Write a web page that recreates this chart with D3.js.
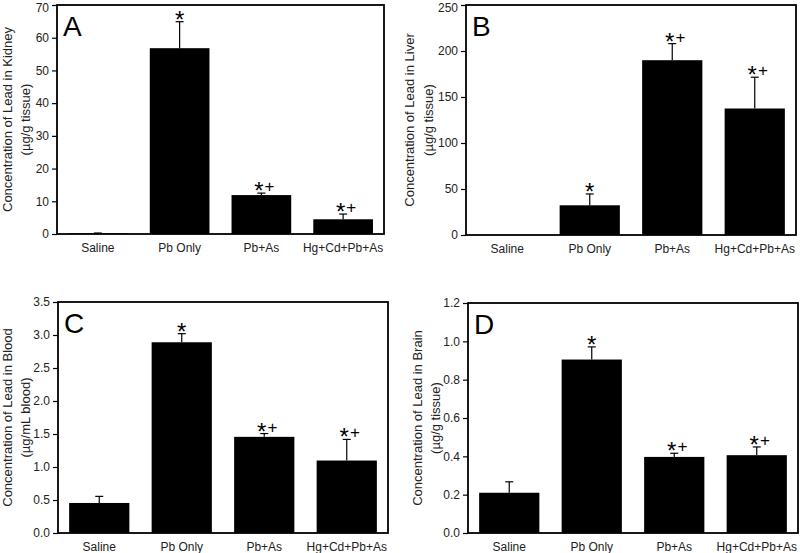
<!DOCTYPE html>
<html>
<head>
<meta charset="utf-8">
<script src="https://cdn.jsdelivr.net/npm/d3@7"></script>
<style>
  html, body { margin: 0; padding: 0; background: #fff; }
  svg { display: block; font-family: "Liberation Sans", Arial, sans-serif; }
</style>
</head>
<body>
<svg id="chart" width="800" height="553"></svg>
<script>
// ---- data ----
const categories = ["Saline", "Pb Only", "Pb+As", "Hg+Cd+Pb+As"];
const marks = ["", "*", "*+", "*+"];

const kidneyMeans = [0.2, 56.8, 11.9, 4.5];
const kidneyErr   = [0.1, 8.1, 0.6, 1.6];
const kidneyTicks = [0, 10, 20, 30, 40, 50, 60, 70];

const liverMeans = [0, 32.3, 190, 137.5];
const liverErr   = [0, 12.3, 18, 34];
const liverTicks = [0, 50, 100, 150, 200, 250];

const bloodMeans = [0.455, 2.89, 1.457, 1.098];
const bloodErr   = [0.10, 0.13, 0.05, 0.32];
const bloodTicks = [0.0, 0.5, 1.0, 1.5, 2.0, 2.5, 3.0, 3.5];

const brainMeans = [0.21, 0.905, 0.397, 0.406];
const brainErr   = [0.057, 0.066, 0.019, 0.043];
const brainTicks = [0.0, 0.2, 0.4, 0.6, 0.8, 1.0, 1.2];

// ---- panels (layout) ----
const panels = [
  { letter: "A", means: kidneyMeans, errs: kidneyErr, ticks: kidneyTicks, max: 70, fmt: d3.format("d"),
    title1: "Concentration of Lead in Kidney", title2: "(\u00b5g/g tissue)",
    box: { l: 57, r: 384, t: 5, b: 234 }, tx: [7, 25] },
  { letter: "B", means: liverMeans, errs: liverErr, ticks: liverTicks, max: 250, fmt: d3.format("d"),
    title1: "Concentration of Lead in Liver", title2: "(\u00b5g/g tissue)",
    box: { l: 466, r: 796, t: 5, b: 235 }, tx: [409, 428] },
  { letter: "C", means: bloodMeans, errs: bloodErr, ticks: bloodTicks, max: 3.5, fmt: d3.format(".1f"),
    title1: "Concentration of Lead in Blood", title2: "(\u00b5g/mL blood)",
    box: { l: 58, r: 388, t: 302, b: 533 }, tx: [7, 25] },
  { letter: "D", means: brainMeans, errs: brainErr, ticks: brainTicks, max: 1.2, fmt: d3.format(".1f"),
    title1: "Concentration of Lead in Brain", title2: "(\u00b5g/g tissue)",
    box: { l: 468, r: 798, t: 303, b: 533 }, tx: [417, 435] }
];

const svg = d3.select("#chart");

panels.forEach(p => {
  const g = svg.append("g");
  const bx = p.box;
  const x = d3.scaleBand().domain(categories).range([bx.l, bx.r]).paddingInner(0.27).paddingOuter(0.135);
  const y = d3.scaleLinear().domain([0, p.max]).range([bx.b, bx.t]);

  // bars
  g.selectAll("rect.bar").data(categories).join("rect")
    .attr("class", "bar")
    .attr("x", d => x(d))
    .attr("width", x.bandwidth())
    .attr("y", (d, i) => y(p.means[i]))
    .attr("height", (d, i) => Math.max(0, y(0) - y(p.means[i])))
    .attr("fill", "#000");

  // error bars (upper only)
  categories.forEach((c, i) => {
    if (p.errs[i] <= 0) return;
    const cx = x(c) + x.bandwidth() / 2;
    const y0 = y(p.means[i]);
    const y1 = y(p.means[i] + p.errs[i]);
    g.append("line").attr("x1", cx).attr("x2", cx).attr("y1", y0).attr("y2", y1)
      .attr("stroke", "#000").attr("stroke-width", 1.2);
    g.append("line").attr("x1", cx - 4).attr("x2", cx + 4).attr("y1", y1).attr("y2", y1)
      .attr("stroke", "#000").attr("stroke-width", 1.2);
    // significance marks
    const m = marks[i];
    if (m) {
      const t = g.append("text").attr("x", cx + (m.length > 1 ? 3 : 0)).attr("y", y1 + 6)
        .attr("text-anchor", "middle").attr("font-size", 24).attr("fill", "#000");
      t.append("tspan").text("*");
      if (m.length > 1) {
        t.append("tspan").text("+").attr("font-size", 17).attr("dy", -7).attr("dx", 1);
      }
    }
  });

  // y axis
  const ax = g.append("g").attr("transform", `translate(${bx.l},0)`)
    .call(d3.axisLeft(y).tickValues(p.ticks).tickFormat(p.fmt).tickSize(5).tickPadding(3));
  ax.select(".domain").remove();
  ax.selectAll(".tick line").attr("stroke", "#000").attr("stroke-width", 1.2);
  ax.selectAll(".tick text").attr("font-size", 12).attr("fill", "#222")
    .attr("font-family", "Liberation Sans, Arial, sans-serif")
    .attr("dy", d => (y(d) < 8 ? "0.5em" : "0.32em"));

  // x labels
  g.selectAll("text.cat").data(categories).join("text")
    .attr("class", "cat")
    .attr("x", d => x(d) + x.bandwidth() / 2)
    .attr("y", bx.b + 18)
    .attr("text-anchor", "middle")
    .attr("font-size", 12)
    .attr("fill", "#222")
    .text(d => d);

  // frame
  g.append("rect").attr("x", bx.l).attr("y", bx.t)
    .attr("width", bx.r - bx.l).attr("height", bx.b - bx.t)
    .attr("fill", "none").attr("stroke", "#000").attr("stroke-width", 1.8);

  // panel letter
  g.append("text").attr("x", bx.l + 6).attr("y", bx.t + 31)
    .attr("font-size", 28).attr("fill", "#000").text(p.letter);

  // y titles
  const cy = (bx.t + bx.b) / 2;
  [p.title1, p.title2].forEach((tt, k) => {
    g.append("text")
      .attr("transform", `translate(${p.tx[k] + 4.5},${cy}) rotate(-90)`)
      .attr("text-anchor", "middle")
      .attr("font-size", 13)
      .attr("fill", "#222")
      .text(tt);
  });
});
</script>
</body>
</html>
